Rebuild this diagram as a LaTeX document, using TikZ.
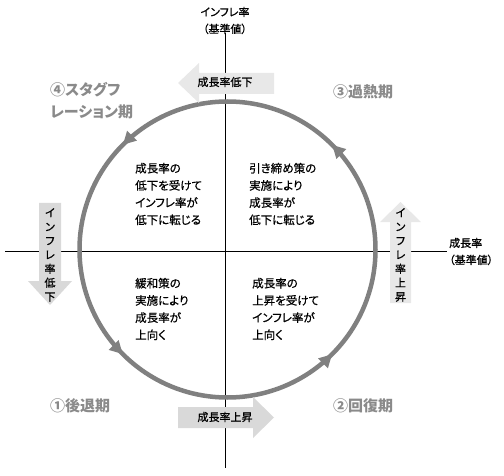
\documentclass[tikz,border=0pt]{standalone}
\usepackage{fontspec}
\setmainfont{Noto Sans CJK JP}[RawFeature=+palt]
\newfontfamily\jpm{Noto Sans CJK JP}[RawFeature=+palt, FakeBold=0.6]
\usetikzlibrary{arrows.meta,decorations.markings}
\definecolor{ringgray}{HTML}{808080}
\definecolor{phasegray}{HTML}{8A8A8A}
\definecolor{arrowlight}{HTML}{E8E8E8}
\definecolor{arrowmid}{HTML}{D9D9D9}
\begin{document}
\begin{tikzpicture}[x=1pt,y=1pt,
  ring/.style={draw=ringgray, line width=4.5pt},
  phase/.style={text=phasegray, font=\fontsize{15}{22}\selectfont\bfseries, anchor=west, inner sep=0pt, align=left},
  desc/.style={font=\jpm\fontsize{11.5}{17.2}\selectfont, anchor=west, inner sep=0pt, align=left},
  lbl/.style={font=\jpm\fontsize{11}{17}\selectfont, inner sep=0pt, align=center},
  vlbl/.style={font=\jpm\fontsize{11}{14}\selectfont, inner sep=0pt, align=center},
  axisline/.style={draw=black, line width=0.8pt},
  ringtip/.style={fill=ringgray, draw=none}]
\useasboundingbox (0,0) rectangle (504,475);
% axes
\coordinate (vtop) at (225,442);
\coordinate (vbot) at (225,7);
\coordinate (hleft) at (5,224);
\coordinate (hright) at (447,224);
\draw[axisline] (vtop) -- (vbot);
\draw[axisline] (hleft) -- (hright);
% axis labels
\node[lbl] (ylab) at (225,454.5) {インフレ率\\（基準値）};
\node[lbl, anchor=west, align=left] (xlab) at (449,223.5) {成長率\\（基準値）};
% ring
\coordinate (c) at (227.5,225.5);
\draw[ring, postaction={decorate}, decoration={markings,
   mark=at position 0.125 with {\arrow[ringgray]{Triangle[length=13pt,width=13pt]}},
   mark=at position 0.375 with {\arrow[ringgray]{Triangle[length=13pt,width=13pt]}},
   mark=at position 0.625 with {\arrow[ringgray]{Triangle[length=13pt,width=13pt]}},
   mark=at position 0.875 with {\arrow[ringgray]{Triangle[length=13pt,width=13pt]}}}]
   (c) circle[radius=148];
% big arrows
\fill[arrowlight] (274,402) -- (199,402) -- (199,412) -- (178,392) -- (199,372) -- (199,381) -- (274,381) -- cycle;
\fill[arrowmid] (178,68) -- (253,68) -- (253,78) -- (274,57.5) -- (253,37) -- (253,47) -- (178,47) -- cycle;
\fill[arrowmid] (39,272) -- (61,272) -- (61,194) -- (72,194) -- (50,170) -- (28,194) -- (39,194) -- cycle;
\fill[arrowlight] (390,172) -- (411,172) -- (411,253) -- (421,253) -- (400.5,273) -- (380,253) -- (390,253) -- cycle;
\node[lbl] (gdown) at (225,393) {成長率低下};
\node[lbl] (gup) at (225,58) {成長率上昇};
\node[vlbl] (idown) at (50,220) {イ\\ン\\フ\\レ\\率\\低\\下};
\node[vlbl] (iup) at (400.5,220) {イ\\ン\\フ\\レ\\率\\上\\昇};
% phase labels
\node[phase] (p4) at (50,374) {④スタグフ\\レーション期};
\node[phase] (p3) at (333,383) {③過熱期};
\node[phase] (p1) at (50,69) {①後退期};
\node[phase] (p2) at (333,69) {②回復期};
% quadrant descriptions
\node[desc] (tl) at (135,281) {成長率の\\低下を受けて\\インフレ率が\\低下に転じる};
\node[desc] (tr) at (249,281) {引き締め策の\\実施により\\成長率が\\低下に転じる};
\node[desc] (bl) at (135,166) {緩和策の\\実施により\\成長率が\\上向く};
\node[desc] (br) at (252,166) {成長率の\\上昇を受けて\\インフレ率が\\上向く};
\end{tikzpicture}
\end{document}
